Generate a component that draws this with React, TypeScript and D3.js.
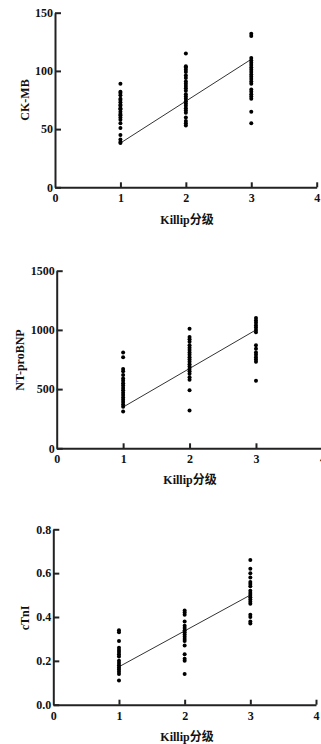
import React, { useRef, useEffect } from "react";
import * as d3 from "d3";

// CK-MB values per Killip class
const ckmbK1 = [89, 82, 81, 79, 76, 75, 73, 71, 70, 68, 67, 65, 63, 62, 60, 58, 55, 51, 45, 41, 39, 38];
const ckmbK2 = [115, 104, 103, 101, 99, 96, 94, 91, 89, 87, 85, 83, 80, 78, 76, 74, 72, 70, 68, 66, 64, 60, 57, 55, 53];
const ckmbK3 = [132, 130, 111, 109, 107, 105, 103, 101, 99, 97, 95, 93, 91, 89, 84, 82, 80, 78, 76, 65, 55];
const ckmbFit = [38, 110];

// NT-proBNP values per Killip class
const bnpK1 = [810, 770, 670, 650, 620, 590, 570, 550, 530, 510, 490, 470, 450, 430, 410, 390, 370, 350, 310];
const bnpK2 = [1010, 940, 920, 900, 870, 850, 830, 810, 790, 770, 750, 730, 710, 690, 670, 650, 630, 600, 580, 490, 320];
const bnpK3 = [1100, 1080, 1060, 1040, 1020, 1000, 980, 870, 840, 810, 790, 770, 750, 730, 570];
const bnpFit = [348, 1000];

// cTnI values per Killip class
const tniK1 = [0.34, 0.33, 0.29, 0.26, 0.25, 0.24, 0.23, 0.22, 0.2, 0.19, 0.18, 0.17, 0.16, 0.15, 0.14, 0.11];
const tniK2 = [0.43, 0.42, 0.41, 0.38, 0.36, 0.35, 0.34, 0.33, 0.32, 0.31, 0.3, 0.29, 0.27, 0.23, 0.21, 0.2, 0.14];
const tniK3 = [0.66, 0.62, 0.6, 0.58, 0.56, 0.55, 0.54, 0.52, 0.51, 0.5, 0.49, 0.48, 0.47, 0.46, 0.41, 0.4, 0.38, 0.37];
const tniFit = [0.173, 0.5];

const killipClasses = [1, 2, 3];
const xTicks = [0, 1, 2, 3, 4];
const ckmbTicks = [0, 50, 100, 150];
const bnpTicks = [0, 500, 1000, 1500];
const tniTicks = [0, 0.2, 0.4, 0.6, 0.8];

const xTitle = "Killip分级";

const App = () => {
    const ref = useRef(null);

    useEffect(() => {
        const width = 321;
        const height = 744;
        const axisColor = "#222";
        const font = "'Liberation Serif', 'Times New Roman', 'Noto Sans CJK SC', serif";

        const svg = d3.select(ref.current)
            .attr("width", width)
            .attr("height", height);
        svg.selectAll("*").remove();

        const panels = [
            { label: "CK-MB", groups: [ckmbK1, ckmbK2, ckmbK3], fit: ckmbFit, ticks: ckmbTicks, fmt: d3.format("d"),
              x0: 55, x1: 316.7, yBottom: 187.3, yTop: 12.7, titleX: 25, titleY: 100, xTitleX: 187, xTitleY: 224 },
            { label: "NT-proBNP", groups: [bnpK1, bnpK2, bnpK3], fit: bnpFit, ticks: bnpTicks, fmt: d3.format("d"),
              x0: 56.7, x1: 322.4, yBottom: 448.3, yTop: 270.7, titleX: 20, titleY: 360, xTitleX: 190, xTitleY: 484 },
            { label: "cTnI", groups: [tniK1, tniK2, tniK3], fit: tniFit, ticks: tniTicks, fmt: d3.format(".1f"),
              x0: 53.3, x1: 316, yBottom: 704.7, yTop: 529.3, titleX: 25, titleY: 618, xTitleX: 187, xTitleY: 741 },
        ];

        panels.forEach(p => {
            const g = svg.append("g");

            const xScale = d3.scaleLinear()
                .domain([0, 4])
                .range([p.x0, p.x1]);

            const yScale = d3.scaleLinear()
                .domain([0, p.ticks[p.ticks.length - 1]])
                .range([p.yBottom, p.yTop]);

            // Y axis (ticks pointing inward)
            const yAxis = g.append("g")
                .attr("transform", `translate(${p.x0},0)`)
                .call(d3.axisRight(yScale).tickValues(p.ticks).tickFormat(p.fmt).tickSize(6).tickSizeOuter(0));
            yAxis.select(".domain").attr("stroke", axisColor).attr("stroke-width", 2);
            yAxis.selectAll(".tick line").attr("stroke", axisColor).attr("stroke-width", 2);
            yAxis.selectAll(".tick text")
                .attr("x", -2)
                .attr("text-anchor", "end")
                .attr("fill", "#111")
                .style("font-family", font)
                .style("font-weight", "bold")
                .style("font-size", "12px");

            // X axis (ticks pointing up)
            const xAxis = g.append("g")
                .attr("transform", `translate(0,${p.yBottom})`)
                .call(d3.axisTop(xScale).tickValues(xTicks).tickFormat(d3.format("d")).tickSize(5).tickSizeOuter(0));
            xAxis.select(".domain").attr("stroke", axisColor).attr("stroke-width", 2);
            xAxis.selectAll(".tick line")
                .attr("stroke", axisColor)
                .attr("stroke-width", 2)
                .style("display", d => (d === 0 ? "none" : null));
            xAxis.selectAll(".tick text")
                .attr("y", 15)
                .attr("dy", 0)
                .attr("fill", "#111")
                .style("font-family", font)
                .style("font-weight", "bold")
                .style("font-size", "12px");

            // Fit line
            g.append("line")
                .attr("x1", xScale(killipClasses[0]))
                .attr("x2", xScale(killipClasses[2]))
                .attr("y1", yScale(p.fit[0]))
                .attr("y2", yScale(p.fit[1]))
                .attr("stroke", "#333")
                .attr("stroke-width", 1);

            // Points
            p.groups.forEach((vals, i) => {
                g.selectAll(null)
                    .data(vals)
                    .enter()
                    .append("circle")
                    .attr("cx", xScale(killipClasses[i]))
                    .attr("cy", d => yScale(d))
                    .attr("r", 2)
                    .attr("fill", "#000");
            });

            // Y title
            g.append("text")
                .attr("transform", `translate(${p.titleX},${p.titleY}) rotate(-90)`)
                .attr("text-anchor", "middle")
                .attr("dy", "0.35em")
                .attr("fill", "#111")
                .style("font-family", font)
                .style("font-weight", "bold")
                .style("font-size", "12px")
                .text(p.label);

            // X title
            g.append("text")
                .attr("x", p.xTitleX)
                .attr("y", p.xTitleY)
                .attr("text-anchor", "middle")
                .attr("fill", "#111")
                .style("font-family", font)
                .style("font-weight", "bold")
                .style("font-size", "12px")
                .text(xTitle);
        });
    }, []);

    return (
        <div style={{ position: "absolute", left: 0, top: 0 }}>
            <svg ref={ref} style={{ display: "block", background: "#fff" }}></svg>
        </div>
    );
};

export default App;
